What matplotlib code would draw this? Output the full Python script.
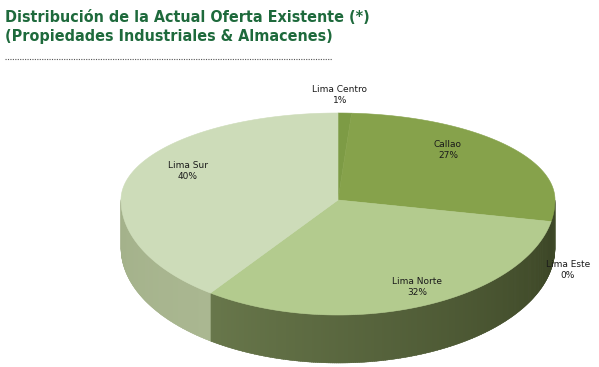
import numpy as np
import matplotlib.pyplot as plt
from matplotlib.patches import Polygon
from matplotlib.colors import to_rgb

# Data
labels = ['Lima Centro', 'Callao', 'Lima Este', 'Lima Norte', 'Lima Sur']
values = [1, 27, 0, 32, 40]
top_colors = ['#7d9b45', '#86a24b', '#6f8a40', '#b3cb8e', '#cddcb9']
side_colors = [('#4a5530', '#4a5530'), ('#434e2b', '#3c4626'), ('#3c4626', '#3c4626'),
               ('#3c4626', '#68774b'), ('#aab791', '#a3b18a')]

title = 'Distribución de la Actual Oferta Existente (*)\n(Propiedades Industriales & Almacenes)'

# pie geometry in pixel units (y grows downward)
cx, cy = 338, 200
a = 217           # horizontal semi-axis
b_back, b_front = 87, 115
depth = 48


def rim(theta):
    # theta in degrees, clockwise from 12 o'clock
    t = np.radians(theta)
    c = np.cos(t)
    b = np.where(c > 0, b_back, b_front)
    return cx + a * np.sin(t), cy - b * c


fig = plt.figure(figsize=(5.99, 3.67), dpi=100)
ax = fig.add_axes([0, 0, 1, 1])
ax.set_xlim(0, 599)
ax.set_ylim(367, 0)
ax.axis('off')

total = sum(values)
angles = np.concatenate([[0], np.cumsum(values) / total * 360])

# side walls (front half only: 90..270 deg)
for i in range(len(values)):
    t0, t1 = max(angles[i], 90), min(angles[i + 1], 270)
    if t1 <= t0:
        continue
    c0, c1 = np.array(to_rgb(side_colors[i][0])), np.array(to_rgb(side_colors[i][1]))
    ts = np.linspace(t0, t1, max(int((t1 - t0) * 2), 2))
    for k in range(len(ts) - 1):
        xa, ya = rim(np.array([ts[k], ts[k + 1] + 0.3]))
        frac = (ts[k] - t0) / (t1 - t0)
        col = c0 + (c1 - c0) * frac
        poly = [(xa[0], ya[0]), (xa[1], ya[1]), (xa[1], ya[1] + depth), (xa[0], ya[0] + depth)]
        ax.add_patch(Polygon(poly, closed=True, facecolor=col, edgecolor=col, lw=0.3))

# top wedges
for i in range(len(values)):
    if values[i] == 0:
        continue
    ts = np.linspace(angles[i], angles[i + 1], max(int(values[i] * 4), 3))
    xs, ys = rim(ts)
    pts = [(cx, cy)] + list(zip(xs, ys))
    ax.add_patch(Polygon(pts, closed=True, facecolor=top_colors[i],
                         edgecolor=top_colors[i], lw=0.4))

# labels
label_xy = [(340, 95), (448, 150), (568, 270), (417, 287), (188, 171)]
for lab, v, (lx, ly) in zip(labels, values, label_xy):
    ax.text(lx, ly, f'{lab}\n{v}%', ha='center', va='center', fontsize=6.5,
            color='#1a1a1a', linespacing=1.3)

# title
fig.text(0.008, 0.972, title, ha='left', va='top', fontsize=11.5, fontweight='bold',
         family='DejaVu Sans', stretch='condensed', color='#1e6a3c', linespacing=1.35)
ax.plot([5, 332], [59, 59], ls=(0, (1, 1.2)), color='#555555', lw=0.8)

fig.savefig('out.png', dpi=100)
